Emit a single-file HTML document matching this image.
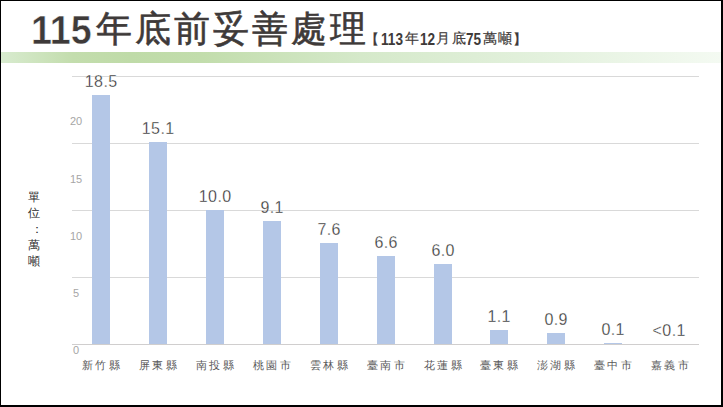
<!DOCTYPE html>
<html><head><meta charset="utf-8">
<style>
html,body{margin:0;padding:0;}
body{width:723px;height:407px;position:relative;overflow:hidden;background:#fff;font-family:"Liberation Sans",sans-serif;}
.frame{position:absolute;left:0;top:0;width:720px;height:404px;border-style:solid;border-color:#000;border-width:1px 2px 2px 1px;}
.t115{position:absolute;left:30.7px;top:4.7px;font-size:40px;line-height:50px;font-weight:bold;color:#3e3a39;white-space:nowrap;transform:scaleX(0.94);transform-origin:0 0;-webkit-text-stroke:0.5px #fff;}
.tcjk{position:absolute;left:95.8px;top:3.5px;font-size:36px;line-height:50px;letter-spacing:3px;color:#3e3a39;-webkit-text-stroke:0.6px #3e3a39;white-space:nowrap;}
.sub span{position:absolute;line-height:40px;color:#3e3a39;white-space:nowrap;}
.sd{top:20px;font-size:16px;font-weight:bold;transform:scaleX(0.85);transform-origin:0 0;}
.sc{top:18px;font-size:14px;-webkit-text-stroke:0.2px #3e3a39;}
.sb{top:19px;font-size:14px;-webkit-text-stroke:0.3px #3e3a39;}
.band{position:absolute;left:1px;top:52px;width:720px;height:11px;background:linear-gradient(90deg,#d8ebcf 0%,#c3ddad 10%,#bfdba8 18%,#c2ddac 28%,#d5e9ca 50%,#e3f1dd 75%,#f4faf2 100%);}
.grid{position:absolute;left:72px;width:627px;height:1px;background:#d9d9d9;}
.base{position:absolute;left:72px;top:344px;width:627px;height:1px;background:#d0cece;}
.bar{position:absolute;width:18px;background:#b4c7e7;}
.val{position:absolute;width:80px;text-align:center;font-size:16px;line-height:20px;letter-spacing:0.4px;text-indent:0.4px;color:#2a2a2a;-webkit-text-stroke:0.3px #fff;}
.cat{position:absolute;top:355px;width:80px;text-align:center;font-size:11px;line-height:20px;letter-spacing:2.4px;color:#595959;}
.yl{position:absolute;left:56px;width:40px;text-align:center;font-size:11px;line-height:14px;color:#a6a6a6;}
.unit{position:absolute;left:27.5px;top:188.5px;width:13px;font-size:12px;line-height:16px;color:#2b2b2b;}
</style></head><body>
<div class="t115">115</div>
<div class="tcjk">年底前妥善處理</div>
<div class="sub"><span class="sb" style="left:364.8px">【</span><span class="sd" style="left:381px">113</span><span class="sc" style="left:404.5px">年</span><span class="sd" style="left:419.5px">12</span><span class="sc" style="left:436.1px">月</span><span class="sc" style="left:451.7px">底</span><span class="sd" style="left:466px">75</span><span class="sc" style="left:483.2px">萬</span><span class="sc" style="left:497.8px">噸</span><span class="sb" style="left:513.3px">】</span></div>
<div class="band"></div>
<div class="grid" style="top:76px"></div><div class="grid" style="top:143px"></div><div class="grid" style="top:210px"></div><div class="grid" style="top:277px"></div>
<div class="base"></div>
<div class="yl" style="top:114.3px">20</div><div class="yl" style="top:171.9px">15</div><div class="yl" style="top:229.3px">10</div><div class="yl" style="top:286.4px">5</div><div class="yl" style="top:343.4px">0</div>
<div class="bar" style="left:92px;top:95px;height:249px"></div><div class="val" style="left:61.0px;top:72px">18.5</div><div class="cat" style="left:62.0px">新竹縣</div><div class="bar" style="left:149px;top:142px;height:202px"></div><div class="val" style="left:118.0px;top:119px">15.1</div><div class="cat" style="left:119.0px">屏東縣</div><div class="bar" style="left:206px;top:210px;height:134px"></div><div class="val" style="left:175.0px;top:187px">10.0</div><div class="cat" style="left:176.0px">南投縣</div><div class="bar" style="left:263px;top:221px;height:123px"></div><div class="val" style="left:232.0px;top:198px">9.1</div><div class="cat" style="left:233.0px">桃園市</div><div class="bar" style="left:320px;top:243px;height:101px"></div><div class="val" style="left:289.0px;top:220px">7.6</div><div class="cat" style="left:290.0px">雲林縣</div><div class="bar" style="left:377px;top:256px;height:88px"></div><div class="val" style="left:346.0px;top:233px">6.6</div><div class="cat" style="left:347.0px">臺南市</div><div class="bar" style="left:434px;top:264px;height:80px"></div><div class="val" style="left:403.0px;top:241px">6.0</div><div class="cat" style="left:404.0px">花蓮縣</div><div class="bar" style="left:490px;top:330px;height:14px"></div><div class="val" style="left:459.0px;top:307px">1.1</div><div class="cat" style="left:460.0px">臺東縣</div><div class="bar" style="left:547px;top:333px;height:11px"></div><div class="val" style="left:516.0px;top:310px">0.9</div><div class="cat" style="left:517.0px">澎湖縣</div><div class="bar" style="left:604px;top:343px;height:1px"></div><div class="val" style="left:573.0px;top:320px">0.1</div><div class="cat" style="left:574.0px">臺中市</div><div class="val" style="left:629.0px;top:321px">&lt;0.1</div><div class="cat" style="left:631.0px">嘉義市</div>
<div class="unit">單<br>位<br><span style="position:relative;left:3px">：</span><br>萬<br>噸</div>
<div class="frame"></div>
</body></html>
